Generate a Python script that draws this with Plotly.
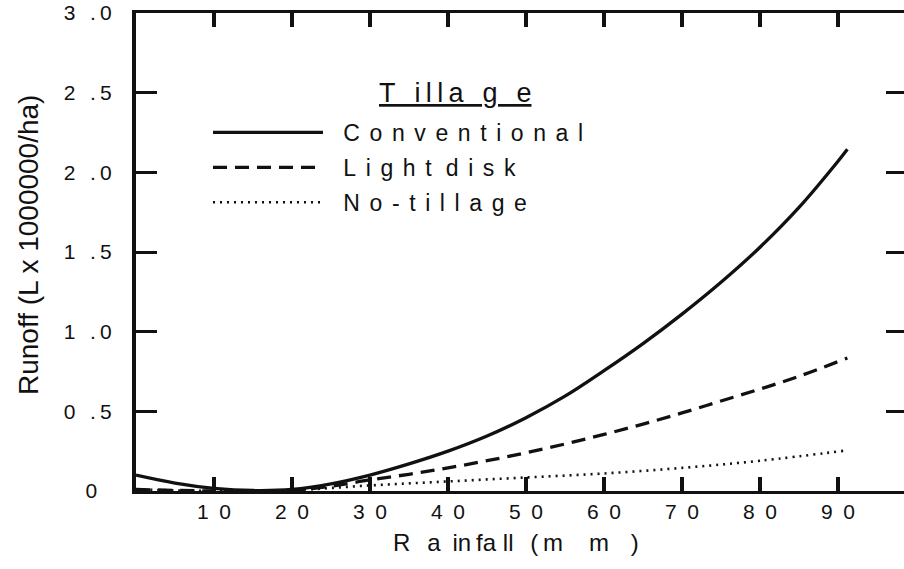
import plotly.graph_objects as go

# ---- data ----
rain_conv = [0, 5, 10, 15, 20, 25, 30, 35, 40, 45, 50, 55, 60, 65, 70, 75, 80, 85, 90, 91.2]
runoff_conv = [0.10, 0.05, 0.017, 0.003, 0.01, 0.045, 0.10, 0.17, 0.25, 0.345, 0.46, 0.595,
               0.755, 0.925, 1.11, 1.31, 1.53, 1.78, 2.07, 2.145]

rain_disk = [0, 10, 20, 25, 30, 35, 40, 45, 50, 55, 60, 65, 70, 75, 80, 85, 91.2]
runoff_disk = [0.01, 0.0, 0.005, 0.03, 0.07, 0.105, 0.145, 0.19, 0.24, 0.295, 0.355, 0.42,
               0.49, 0.565, 0.64, 0.72, 0.835]

rain_notill = [0, 10, 20, 30, 40, 50, 60, 70, 80, 91.2]
runoff_notill = [0.01, 0.0, 0.005, 0.035, 0.06, 0.085, 0.11, 0.145, 0.19, 0.255]

x_tickvals = [10, 20, 30, 40, 50, 60, 70, 80, 90]
x_ticktext = ["1\u20020", "2\u20020", "3\u20020", "4\u20020", "5\u20020",
              "6\u20020", "7\u20020", "8\u20020", "9\u20020"]
y_tickvals = [0, 0.5, 1.0, 1.5, 2.0, 2.5, 3.0]
y_ticktext = ["0\u2002\u2009", "0\u2002\u2009.\u20095", "1\u2002\u2009.\u20090",
              "1\u2002\u2009.\u20095", "2\u2002\u2009.\u20090", "2\u2002\u2009.\u20095",
              "3\u2002\u2009.\u20090"]

S = "\u2004\u200a"  # letter spacing used in the legend labels
lead = "\u2002\u2006"
names = [lead + S.join("Conventional"),
         lead + S.join("Light") + S + "\u2009" + S.join("disk"),
         lead + S.join("No-tillage")]

INK = "#111111"
FONT = "Liberation Sans, Arial, sans-serif"

fig = go.Figure()
fig.add_trace(go.Scatter(x=rain_conv, y=runoff_conv, mode="lines", line_shape="spline",
                         line=dict(color=INK, width=3.3), name=names[0], legendgroup="a"))
fig.add_trace(go.Scatter(x=rain_disk, y=runoff_disk, mode="lines", line_shape="spline",
                         line=dict(color=INK, width=3.3, dash="14px,8px"), name=names[1],
                         legendgroup="b"))
fig.add_trace(go.Scatter(x=rain_notill, y=runoff_notill, mode="lines", line_shape="spline",
                         line=dict(color=INK, width=2.6, dash="2px,5px"), name=names[2],
                         legendgroup="c"))
# invisible helper so the right-hand tick axis is drawn
fig.add_trace(go.Scatter(x=[None], y=[None], yaxis="y2", showlegend=False, hoverinfo="skip"))

W, H = 904, 569
ML, MR, MT, MB = 136, 0, 13, 78
pw, ph = W - ML - MR, H - MT - MB


def px(xp):
    return (xp - ML) / pw


def py(yp):
    return (H - MB - yp) / ph


fig.update_layout(
    width=W, height=H,
    margin=dict(l=ML, r=MR, t=MT, b=MB),
    paper_bgcolor="white", plot_bgcolor="white",
    showlegend=True,
    legend=dict(x=px(208), y=py(111), xanchor="left", yanchor="top",
                font=dict(family=FONT, size=23, color=INK),
                itemwidth=110, tracegroupgap=2, bgcolor="rgba(0,0,0,0)"),
    xaxis=dict(range=[0, 98.46], tickvals=x_tickvals, ticktext=x_ticktext,
               ticks="inside", ticklen=14, tickwidth=4, tickcolor=INK,
               showline=True, linewidth=3, linecolor=INK, mirror="ticks",
               showgrid=False, zeroline=False,
               tickfont=dict(family=FONT, size=21, color=INK)),
    yaxis=dict(range=[0, 3], tickvals=y_tickvals, ticktext=y_ticktext,
               ticks="inside", ticklen=21, tickwidth=3, tickcolor=INK,
               showline=True, linewidth=4, linecolor=INK, mirror=False,
               showgrid=False, zeroline=False, ticklabelstandoff=16,
               tickfont=dict(family=FONT, size=21, color=INK)),
    yaxis2=dict(range=[0, 3], overlaying="y", side="right",
                tickvals=[0.5, 1.0, 1.5, 2.0, 2.5], ticks="inside", ticklen=18,
                tickwidth=3, tickcolor=INK, showticklabels=False,
                showline=False, showgrid=False, zeroline=False),
    annotations=[
        dict(text="Runoff (L x 1000000/ha)", textangle=-90, showarrow=False,
             xref="paper", yref="paper", x=px(28), y=py(245),
             xanchor="center", yanchor="middle",
             font=dict(family=FONT, size=28, color=INK)),
        dict(text="R\u2002\u2009a\u2002in\u2009fa\u2009\u200all\u2002\u2009(\u2009m\u2003\u200am\u2002\u2009\u2009)",
             showarrow=False, xref="paper", yref="paper", x=px(516), y=py(542),
             xanchor="center", yanchor="middle",
             font=dict(family=FONT, size=24, color=INK)),
        dict(text="<u>T\u2002\u2009i\u2009l\u2009l\u2009a\u2002\u2009g\u2002\u2009e</u>",
             showarrow=False, xref="paper", yref="paper", x=px(455), y=py(93),
             xanchor="center", yanchor="middle",
             font=dict(family=FONT, size=27, color=INK)),
    ],
)

fig.write_html("out.html")
